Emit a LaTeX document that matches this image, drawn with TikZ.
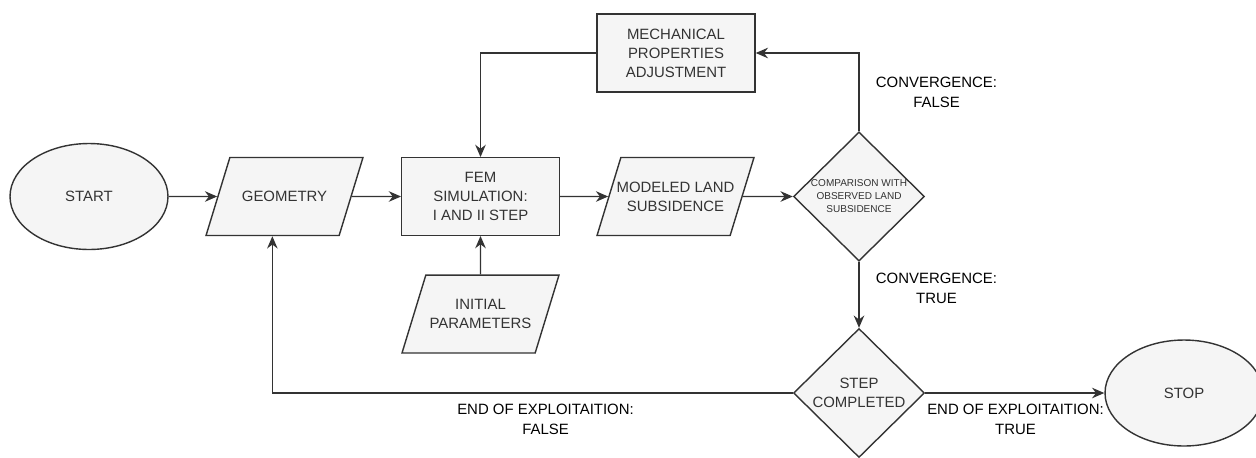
\documentclass[tikz,border=0pt]{standalone}
\usepackage{fontspec}
\setmainfont{Liberation Sans}
\usetikzlibrary{shapes.geometric,arrows.meta}
\definecolor{boxfill}{HTML}{F5F5F5}
\definecolor{boxline}{HTML}{333333}
\definecolor{boxtext}{HTML}{333333}
\newcommand{\mainfont}{\fontsize{8.5}{10.8}\selectfont}
\newcommand{\tinyfont}{\fontsize{5.7}{7.4}\selectfont}
\tikzset{
  base/.style={draw=boxline, fill=boxfill, text=boxtext, line width=0.8pt,
               font=\mainfont, align=center, inner sep=0pt},
  term/.style={base, ellipse, minimum width=3.16cm, minimum height=2.12cm},
  proc/.style={base, rectangle, minimum width=3.15cm, minimum height=1.55cm},
  % inner ysep sets the height, so the slant stays at 73 degrees
  data/.style={base, trapezium, trapezium left angle=73, trapezium right angle=107,
               trapezium stretches body=true, minimum width=3.14cm, inner ysep=#1},
  data/.default=13.8pt,
  decide/.style={base, diamond, minimum width=2.62cm, minimum height=2.58cm},
  flow/.style={draw=boxline, line width=0.8pt, -{Stealth[length=7pt,width=6pt]}},
  lbl/.style={font=\fontsize{8.5}{11.4}\selectfont, align=center, text=black}
}

\begin{document}
\begin{tikzpicture}[x=0.02cm, y=-0.02cm]
\useasboundingbox (0,0) rectangle (1256,457);

% main line
\node[term] (start) at (89,196.5) {START};
\node[data=19.2pt] (geometry) at (284.5,196.5) {GEOMETRY};
\node[proc] (fem) at (480.5,196.5) {FEM\\SIMULATION:\\I AND II STEP};
\node[data] (modeled) at (675.5,196.5) {\makebox[2cm][c]{MODELED LAND}\\SUBSIDENCE};
\node[decide, font=\tinyfont] (compare) at (859,196.5) {COMPARISON WITH\\OBSERVED LAND\\SUBSIDENCE};

% loop back
\node[proc, minimum width=3.16cm, minimum height=1.56cm] (mech) at (676,53) {MECHANICAL\\PROPERTIES\\ADJUSTMENT};
\node[data] (initial) at (480.5,314) {INITIAL\\PARAMETERS};

% end
\node[decide] (step) at (859,393) {STEP\\COMPLETED};
\node[term] (stop) at (1184,393) {STOP};

\draw[flow] (start) -- (geometry);
\draw[flow] (geometry) -- (fem);
\draw[flow] (fem) -- (modeled);
\draw[flow] (modeled) -- (compare);
\draw[flow] (initial) -- (fem);
\draw[flow] (compare) |- (mech);
\draw[flow] (mech) -| (fem);
\draw[flow] (compare) -- (step);
\draw[flow] (step) -| (geometry.bottom side);
\draw[flow] (step) -- (stop);

% edge labels
\node[lbl] (convfalse) at (936.5,92) {CONVERGENCE:\\FALSE};
\node[lbl] (convtrue) at (936.5,288) {CONVERGENCE:\\TRUE};
\node[lbl] (endfalse) at (545.5,419) {END OF EXPLOITAITION:\\FALSE};
\node[lbl] (endtrue) at (1015.5,419) {END OF EXPLOITAITION:\\TRUE};
\end{tikzpicture}
\end{document}
